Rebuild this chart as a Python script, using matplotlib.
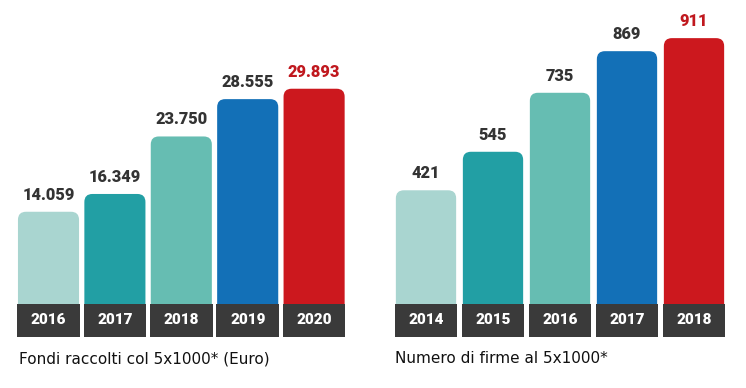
import matplotlib.pyplot as plt
from matplotlib.patches import FancyBboxPatch, Rectangle

# data
fondi_anni = ["2016", "2017", "2018", "2019", "2020"]
fondi_valori = [14059, 16349, 23750, 28555, 29893]
fondi_etichette = ["14.059", "16.349", "23.750", "28.555", "29.893"]

firme_anni = ["2014", "2015", "2016", "2017", "2018"]
firme_valori = [421, 545, 735, 869, 911]
firme_etichette = ["421", "545", "735", "869", "911"]

colori = ["#a9d5d0", "#229fa4", "#66bdb2", "#1370b7", "#cc181e"]
colori_testo = ["#333333"] * 4 + ["#c0181e"]
striscia = "#3a3a3a"

W, H = 746, 388
fig = plt.figure(figsize=(W / 100, H / 100), dpi=100)
fig.patch.set_facecolor("white")

BASE = 321   # pixel row of the value-zero line
AX_BOT = 345  # pixel row of the axes bottom


def pannello(x0, pitch, c0, width, scale, anni, valori, etichette):
    # axes covering pixel columns x0..x0+373, rows 0..AX_BOT
    ax = fig.add_axes([x0 / W, (H - AX_BOT) / H, 373 / W, AX_BOT / H])
    ax.set_xlim(-c0 / pitch, (373 - c0) / pitch)
    ax.set_ylim(-(AX_BOT - BASE) / scale, BASE / scale)
    ax.axis("off")

    xs = list(range(len(valori)))
    bars = ax.bar(xs, valori, width=width, color=colori)
    r = 8  # corner radius in pixels
    for b, col in zip(bars, colori):
        x, y = b.get_x(), b.get_y()
        w, h = b.get_width(), b.get_height()
        b.remove()
        p = FancyBboxPatch((x, y), w, h,
                           boxstyle=f"round,pad=0,rounding_size={r / pitch}",
                           mutation_aspect=pitch / scale,
                           fc=col, ec="none", zorder=1)
        ax.add_patch(p)

    # dark strip with years
    top = 17 / scale
    bot = -16 / scale
    for x, anno in zip(xs, anni):
        ax.add_patch(Rectangle((x - width / 2 - 0.01, bot), width + 0.02, top - bot,
                               fc=striscia, ec="none", zorder=2))
        ax.text(x, (top + bot) / 2, anno, ha="center", va="center",
                color="white", fontsize=11, fontweight="heavy",
                family="Roboto", zorder=3)

    for x, v, lab, tc in zip(xs, valori, etichette, colori_testo):
        ax.annotate(lab, (x, v), xytext=(0, 9), textcoords="offset pixels",
                    ha="center", va="bottom", fontsize=11.8,
                    fontweight="heavy", family="Roboto", color=tc)
    return ax


pannello(0, 66.4, 48.5, 0.92, 0.00777, fondi_anni, fondi_valori,
         fondi_etichette)
pannello(373, 67.0, 53.0, 0.90, 0.3105, firme_anni, firme_valori,
         firme_etichette)

fig.text(19 / W, 1 - 363 / H, "Fondi raccolti col 5x1000* (Euro)",
         ha="left", va="baseline", fontsize=11, family="DejaVu Sans",
         color="#111111")
fig.text(395 / W, 1 - 363 / H, "Numero di firme al 5x1000*",
         ha="left", va="baseline", fontsize=11, family="DejaVu Sans",
         color="#111111")

fig.savefig("out.png", dpi=100, facecolor="white")
